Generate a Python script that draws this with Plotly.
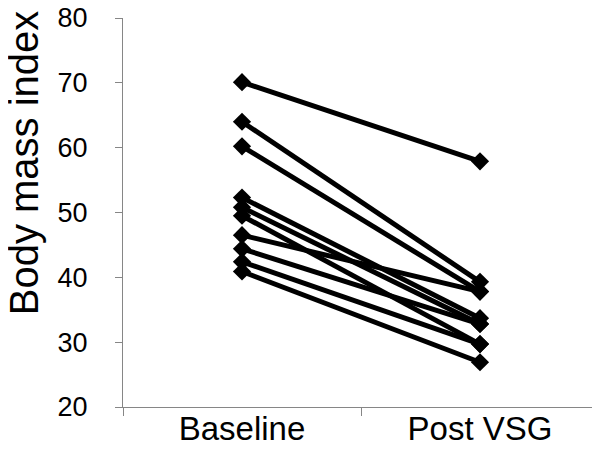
import plotly.graph_objects as go

categories = ["Baseline", "Post VSG"]

# BMI per subject (paired by line)
baseline = [70.1, 64.0, 60.2, 52.3, 50.8, 49.5, 46.5, 44.4, 42.4, 40.9]
post_vsg = [57.9, 39.3, 37.8, 33.7, 32.8, 29.7, 37.8, 32.8, 29.7, 26.9]

y_ticks = [20, 30, 40, 50, 60, 70, 80]

axis_grey = "#868686"
font_family = "Arial, Liberation Sans, sans-serif"

fig = go.Figure()

for b, p in zip(baseline, post_vsg):
    fig.add_trace(go.Scatter(
        x=categories,
        y=[b, p],
        mode="lines+markers",
        line=dict(color="black", width=5),
        marker=dict(symbol="diamond", size=14, color="black"),
        showlegend=False,
        hoverinfo="skip",
    ))

# page body has an 8px margin, so the figure is 592x442 and sits at (8, 8)
fig.update_layout(
    width=592,
    height=442,
    paper_bgcolor="white",
    plot_bgcolor="white",
    margin=dict(l=115, r=1, t=10, b=43),
    font=dict(family=font_family, color="black"),
    xaxis=dict(
        type="category",
        range=[-0.5, 1.5],
        automargin=False,
        showline=True,
        linecolor=axis_grey,
        linewidth=1,
        showgrid=False,
        zeroline=False,
        tickson="boundaries",
        ticks="outside",
        ticklen=8,
        tickcolor=axis_grey,
        ticklabelstandoff=-8,
        tickfont=dict(size=33, color="black"),
    ),
    yaxis=dict(
        range=[20, 80.001],
        automargin=False,
        tickvals=y_ticks,
        showline=True,
        linecolor=axis_grey,
        linewidth=1,
        showgrid=False,
        zeroline=False,
        ticks="outside",
        ticklen=7,
        tickcolor=axis_grey,
        ticklabelstandoff=22,
        ticklabeloverflow="allow",
        tickfont=dict(size=27, color="black"),
    ),
)

fig.add_annotation(
    text="Body mass index",
    textangle=-90,
    xref="paper",
    yref="paper",
    x=-0.258,
    y=0.627,
    xanchor="left",
    yanchor="middle",
    showarrow=False,
    font=dict(size=40, color="black", family=font_family),
)

fig.write_html("out.html")
